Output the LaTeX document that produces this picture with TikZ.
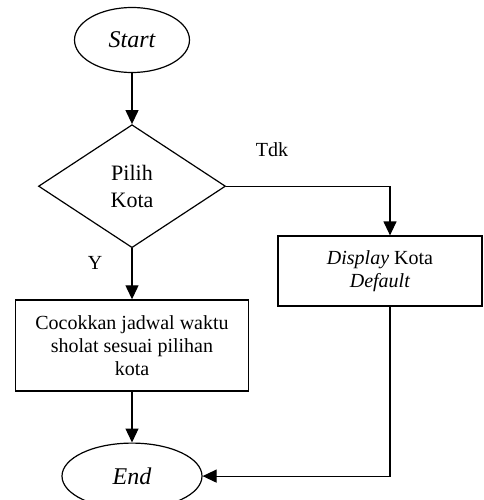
\documentclass[tikz,border=0pt]{standalone}
\usepackage{fontspec}
\setmainfont{Liberation Serif}
\usetikzlibrary{positioning,shapes.geometric,arrows.meta}

\begin{document}
\begin{tikzpicture}
		[x=1pt,y=1pt,node distance=51pt,
		every node/.style={font=\fontsize{20}{23}\selectfont},
		terminal/.style={ellipse,draw=black,line width=1.2pt,inner sep=0pt,minimum width=115pt,minimum height=65pt,font=\fontsize{24}{28}\selectfont\itshape},
		decision/.style={diamond,draw=black,line width=1.2pt,inner sep=0pt,minimum width=187pt,minimum height=123pt,align=center,font=\fontsize{22}{27}\selectfont},
		process/.style={rectangle,draw=black,line width=1.2pt,inner sep=2pt,align=center},
		flow/.style={draw=black,line width=1.2pt,-{Triangle[length=14pt,width=13pt]}}]
		\useasboundingbox (0,0) rectangle (483,-500);

		\node [terminal] (start) at (132,-40) {Start};
		\node [decision] (pilih) [below=of start] {Pilih\\Kota};
		\node [process,minimum width=233pt,minimum height=91pt] (cocok) [below=of pilih] {Cocokkan jadwal waktu\\sholat sesuai pilihan\\kota};
		\node [terminal,minimum width=140pt,minimum height=66pt] (end) [below=of cocok] {End};
		\node [process,minimum width=204pt,minimum height=70pt] (display) at (380,-271) {\textit{Display} Kota\\\textit{Default}};

		\node (tdk) at (272,-150) {Tdk};
		\node (ya) at (95,-263) {Y};

		\draw [flow] (start) -- (pilih);
		\draw [flow] (pilih) -- (cocok);
		\draw [flow] (cocok) -- (end);
		\draw [flow] (pilih.east) -| ([xshift=10pt]display.north);
		\draw [flow] ([xshift=10pt]display.south) |- (end.east);

	\end{tikzpicture}
\end{document}
